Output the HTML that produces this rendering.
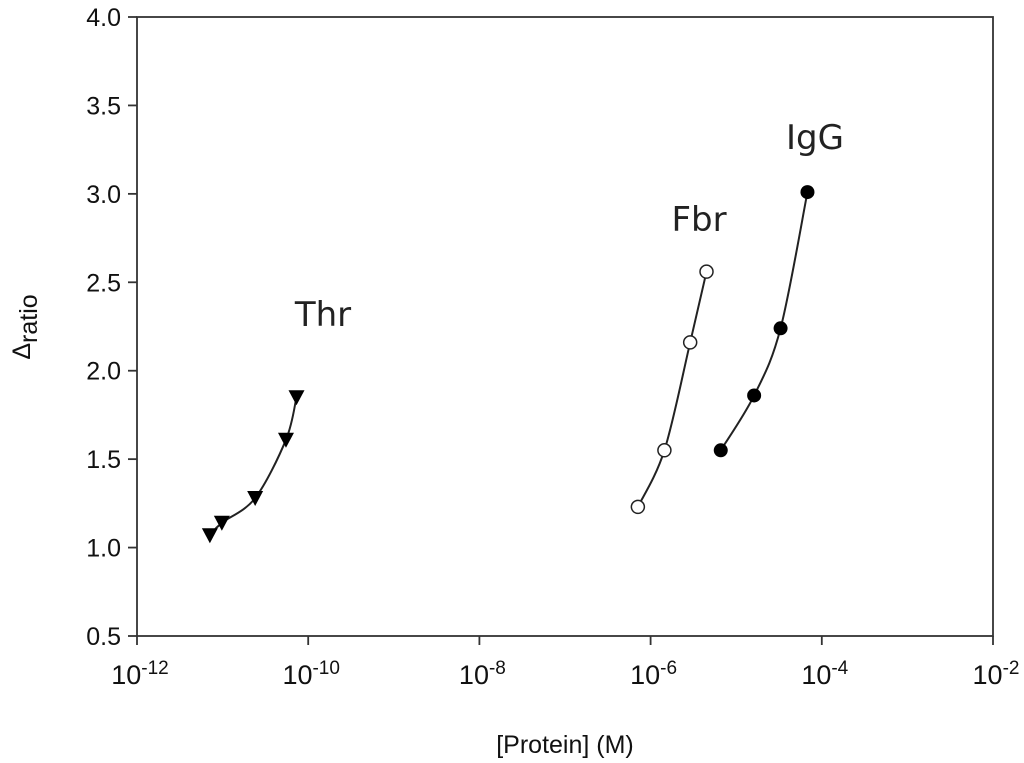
<!DOCTYPE html>
<html><head><meta charset="utf-8"><style>
body{margin:0;background:#fff}
svg{display:block;font-family:"Liberation Sans",Arial,sans-serif}
</style></head><body>
<svg id="chart" width="1024" height="763">
<g id="axes"></g><g id="marks"></g>
</svg>
<script>
const xTicksExp=[-12,-10,-8,-6,-4,-2];
const yTicks=[0.5,1.0,1.5,2.0,2.5,3.0,3.5,4.0];
const thrX=[7.1e-12,9.8e-12,2.4e-11,5.5e-11,7.3e-11];
const thrY=[1.07,1.14,1.28,1.61,1.85];
const fbrX=[7.1e-7,1.45e-6,2.9e-6,4.5e-6];
const fbrY=[1.23,1.55,2.16,2.56];
const iggX=[6.6e-6,1.62e-5,3.3e-5,6.8e-5];
const iggY=[1.55,1.86,2.24,3.01];
const L=137,R=993,T=17,B=636;
const xs=v=>L+(Math.log10(v)+12)/10*(R-L);
const ys=v=>B-(v-0.5)/3.5*(B-T);
const NS="http://www.w3.org/2000/svg";
const ax=document.getElementById('axes'),mk=document.getElementById('marks');
function el(t,a,p,txt){const e=document.createElementNS(NS,t);for(const k in a)e.setAttribute(k,a[k]);if(txt!=null)e.textContent=txt;p.appendChild(e);return e;}
const frame=el('rect',{x:L,y:T,width:R-L,height:B-T,fill:'none',stroke:'#333','stroke-width':1.8},ax);


yTicks.forEach(v=>{
 const y=ys(v);
 const t=el('line',{x1:L-9,x2:L,y1:y,y2:y,stroke:'#333','stroke-width':1.8},ax);
 
 
 const l=el('text',{x:L-16,y:y+9,'text-anchor':'end','font-size':25,fill:'#111'},ax,v.toFixed(1));
 
 
});
xTicksExp.forEach(e=>{
 const x=xs(Math.pow(10,e));
 const t=el('line',{x1:x,x2:x,y1:B,y2:B+9,stroke:'#333','stroke-width':1.8},ax);
 
 
 const l=el('text',{x:x+3,y:B+48,'text-anchor':'middle','font-size':27,fill:'#111'},ax);
 
 
 el('tspan',{},l,'10');
 el('tspan',{dy:-10,'font-size':19},l,String(e));
});
const xl=el('text',{x:565,y:753,'text-anchor':'middle','font-size':25,fill:'#111'},ax,'[Protein] (M)');


const yl=el('text',{transform:'translate(30,327) rotate(-90)','text-anchor':'middle','font-size':25,fill:'#111'},ax);


el('tspan',{},yl,'Δ');
el('tspan',{dy:7},yl,'ratio');
function curve(X,Y,name){
 const p=X.map((x,i)=>[xs(x),ys(Y[i])]);
 let d='M'+p[0][0]+','+p[0][1];
 for(let i=0;i<p.length-1;i++){
  const p0=p[i-1]||p[i],p1=p[i],p2=p[i+1],p3=p[i+2]||p2;
  const c1=[p1[0]+(p2[0]-p0[0])/6,p1[1]+(p2[1]-p0[1])/6];
  const c2=[p2[0]-(p3[0]-p1[0])/6,p2[1]-(p3[1]-p1[1])/6];
  d+=` C${c1[0]},${c1[1]} ${c2[0]},${c2[1]} ${p2[0]},${p2[1]}`;
 }
 const c=el('path',{d:d,fill:'none',stroke:'#222','stroke-width':2},mk);
 
 
}
curve(thrX,thrY,'thr');curve(fbrX,fbrY,'fbr');curve(iggX,iggY,'igg');
thrX.forEach((v,i)=>{const x=xs(v),y=ys(thrY[i]);
 const m=el('polygon',{points:`${x-8},${y-7} ${x+8},${y-7} ${x},${y+8}`,fill:'#000'},mk);
 
 });
fbrX.forEach((v,i)=>{
 const m=el('circle',{cx:xs(v),cy:ys(fbrY[i]),r:6.5,fill:'#fff',stroke:'#222','stroke-width':1.5},mk);
 
 });
iggX.forEach((v,i)=>{
 const m=el('circle',{cx:xs(v),cy:ys(iggY[i]),r:7,fill:'#000'},mk);
 
 });
[['Thr',323,326,'thr-label'],['Fbr',699,231,'fbr-label'],['IgG',815,149,'igg-label']].forEach(a=>{
 const t=el('text',{x:a[1],y:a[2],'text-anchor':'middle','font-size':34,fill:'#222','font-family':'"DejaVu Sans","Liberation Sans",sans-serif'},mk,a[0]);
 
 
});
</script>
</body></html>
